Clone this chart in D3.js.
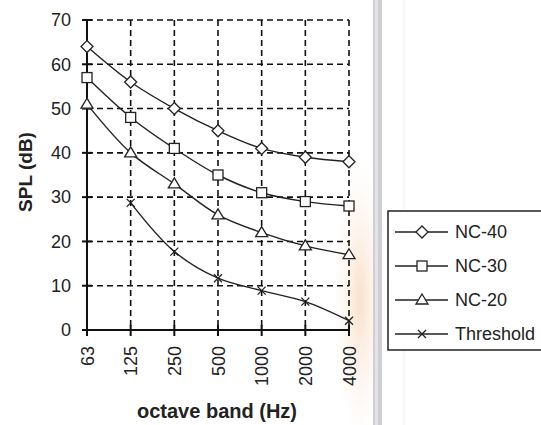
<!DOCTYPE html>
<html><head><meta charset="utf-8">
<script src="https://cdn.jsdelivr.net/npm/d3@7"></script>
<style>
html,body{margin:0;padding:0;background:#fff;}
svg{display:block;font-family:"Liberation Sans",Arial,sans-serif;}
</style></head>
<body>
<svg id="chart" width="541" height="425"></svg>
<script>
const categories = ["63","125","250","500","1000","2000","4000"];
const yTicks = [0,10,20,30,40,50,60,70];
const nc40 = [64,56,50,45,41,39,38];
const nc30 = [57,48,41,35,31,29,28];
const nc20 = [51,40,33,26,22,19,17];
const threshold = [null,28.7,17.7,11.7,8.9,6.4,2.1];
const seriesNames = ["NC-40","NC-30","NC-20","Threshold"];
const seriesMarkers = ["diamond","square","triangle","cross"];
const seriesValues = [nc40,nc30,nc20,threshold];

(function(){
const svg = d3.select("#chart");
const pL = 87, pR = 349, pT = 20, pB = 330;
const x = d3.scalePoint().domain(categories).range([pL,pR]);
const y = d3.scaleLinear().domain([0,70]).range([pB,pT]);

// background decorations (separator bar, faint watermark)
const defs = svg.append("defs");
const rg = defs.append("radialGradient").attr("id","wm");
rg.append("stop").attr("offset","0%").attr("stop-color","#f7d8bd").attr("stop-opacity",0.8);
rg.append("stop").attr("offset","100%").attr("stop-color","#fbeee2").attr("stop-opacity",0);
svg.append("ellipse").attr("cx",360).attr("cy",300).attr("rx",26).attr("ry",140).attr("fill","url(#wm)");
svg.append("rect").attr("x",373).attr("y",0).attr("width",9).attr("height",425).attr("fill","#cfcfd3");
svg.append("rect").attr("x",375).attr("y",0).attr("width",3).attr("height",425).attr("fill","#e4e4e8");
svg.append("line").attr("x1",404).attr("x2",404).attr("y1",0).attr("y2",425).attr("stroke","#f0f0f2").attr("stroke-width",1);

// grid
const g = svg.append("g");
const dash = "6,4";
yTicks.filter(d=>d>0).forEach(v=>{
  g.append("line").attr("x1",pL).attr("x2",pR).attr("y1",y(v)).attr("y2",y(v))
   .attr("stroke","#111").attr("stroke-width",1.6).attr("stroke-dasharray",dash);
});
categories.slice(1).forEach(c=>{
  g.append("line").attr("x1",x(c)).attr("x2",x(c)).attr("y1",y(70)).attr("y2",y(0))
   .attr("stroke","#111").attr("stroke-width",1.6).attr("stroke-dasharray",dash);
});

// axes
const yAxis = d3.axisLeft(y).tickValues(yTicks).tickSize(0).tickPadding(16);
const ya = svg.append("g").attr("transform",`translate(${pL},0)`).call(yAxis);
ya.select(".domain").remove();
ya.selectAll("text").attr("font-size",18).attr("fill","#222").attr("font-family","Liberation Sans, Arial, sans-serif");
yTicks.forEach(v=>{
  svg.append("line").attr("x1",pL-5).attr("x2",pL+5).attr("y1",y(v)).attr("y2",y(v)).attr("stroke","#111").attr("stroke-width",2);
});
svg.append("line").attr("x1",pL).attr("x2",pL).attr("y1",y(70)).attr("y2",y(0)).attr("stroke","#111").attr("stroke-width",2);

const xAxis = d3.axisBottom(x).tickSize(0).tickPadding(0);
const xa = svg.append("g").attr("transform",`translate(0,${pB})`).call(xAxis);
xa.select(".domain").remove();
xa.selectAll("text").attr("font-size",18).attr("fill","#222")
  .attr("font-family","Liberation Sans, Arial, sans-serif")
  .attr("text-anchor","end").attr("dy",null).attr("y",null)
  .attr("transform","translate(0,16) rotate(-90)").attr("dominant-baseline","central");
categories.forEach(c=>{
  svg.append("line").attr("x1",x(c)).attr("x2",x(c)).attr("y1",pB-5).attr("y2",pB+6).attr("stroke","#111").attr("stroke-width",2);
});
svg.append("line").attr("x1",pL-5).attr("x2",pR).attr("y1",pB).attr("y2",pB).attr("stroke","#111").attr("stroke-width",2);

// titles
svg.append("text").attr("transform","translate(32,172) rotate(-90)").attr("text-anchor","middle")
  .attr("font-size",19).attr("font-weight","bold").attr("fill","#222").text("SPL (dB)");
svg.append("text").attr("x",217).attr("y",418).attr("text-anchor","middle")
  .attr("font-size",20).attr("font-weight","bold").attr("fill","#222").text("octave band (Hz)");

// markers
function marker(sel, type, cx, cy){
  const s = 5;
  if(type==="diamond"){
    sel.append("path").attr("d",`M${cx},${cy-s-1}L${cx+s+1},${cy}L${cx},${cy+s+1}L${cx-s-1},${cy}Z`)
      .attr("fill","#fff").attr("stroke","#222").attr("stroke-width",1.3);
  } else if(type==="square"){
    sel.append("rect").attr("x",cx-s).attr("y",cy-s).attr("width",2*s).attr("height",2*s)
      .attr("fill","#fff").attr("stroke","#222").attr("stroke-width",1.3);
  } else if(type==="triangle"){
    sel.append("path").attr("d",`M${cx},${cy-s-1}L${cx+s+1},${cy+s-1}L${cx-s-1},${cy+s-1}Z`)
      .attr("fill","#fff").attr("stroke","#222").attr("stroke-width",1.3);
  } else {
    sel.append("path").attr("d",`M${cx-4},${cy-4}L${cx+4},${cy+4}M${cx-4},${cy+4}L${cx+4},${cy-4}`)
      .attr("fill","none").attr("stroke","#222").attr("stroke-width",1.3);
  }
}

// series
const line = d3.line().defined(d=>d.v!=null).x(d=>x(d.c)).y(d=>y(d.v)).curve(d3.curveCatmullRom.alpha(0.5));
seriesValues.forEach((vals,i)=>{
  const pts = categories.map((c,j)=>({c, v: vals[j]}));
  svg.append("path").datum(pts).attr("d",line).attr("fill","none").attr("stroke","#222").attr("stroke-width",1.4);
  const mg = svg.append("g");
  pts.filter(p=>p.v!=null).forEach(p=>marker(mg, seriesMarkers[i], x(p.c), y(p.v)));
});

// legend
const lg = svg.append("g");
lg.append("rect").attr("x",388).attr("y",211).attr("width",170).attr("height",139)
  .attr("fill","#fff").attr("stroke","#222").attr("stroke-width",1.5);
seriesNames.forEach((n,i)=>{
  const ly = 232 + i*34;
  lg.append("line").attr("x1",395).attr("x2",448).attr("y1",ly).attr("y2",ly).attr("stroke","#222").attr("stroke-width",1.4);
  marker(lg, seriesMarkers[i], 422, ly);
  lg.append("text").attr("x",455).attr("y",ly).attr("dominant-baseline","central")
    .attr("font-size",18).attr("fill","#222").text(n);
});
})();
</script>
</body></html>
